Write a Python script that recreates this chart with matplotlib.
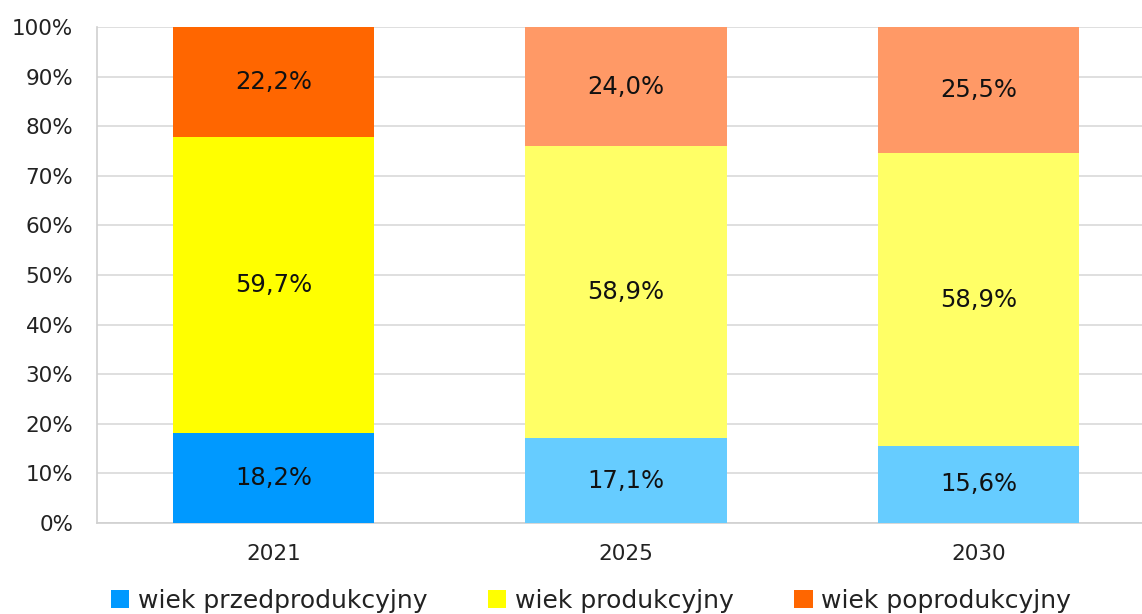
import matplotlib
matplotlib.use("Agg")
import matplotlib.pyplot as plt
from matplotlib.patches import Patch
from matplotlib.ticker import PercentFormatter, MultipleLocator
import numpy as np

years = ["2021", "2025", "2030"]
series_names = ["wiek przedprodukcyjny", "wiek produkcyjny", "wiek poprodukcyjny"]
pre = [18.2, 17.1, 15.6]
prod = [59.7, 58.9, 58.9]
post = [22.2, 24.0, 25.5]

bright_colors = ["#0099FF", "#FFFF00", "#FF6600"]
light_colors = ["#66CCFF", "#FFFF66", "#FF9966"]

plt.rcParams['font.family'] = ['DejaVu Sans']

fig = plt.figure(figsize=(11.42, 6.14), dpi=100)
ax = fig.add_axes([97/1142, 1-523/614, (1155-97)/1142, (523-27)/614])

data = np.array([pre, prod, post])
totals = data.sum(axis=0)
shares = data / totals

x = np.arange(len(years))
width = 0.57
bottom = np.zeros(len(years))
for i in range(3):
    cols = [bright_colors[i] if j == 0 else light_colors[i] for j in range(len(years))]
    ax.bar(x, shares[i], width, bottom=bottom, color=cols, zorder=3)
    for j in range(len(years)):
        ax.text(x[j], bottom[j] + shares[i][j] / 2, f"{data[i][j]:.1f}".replace(".", ",") + "%",
                ha="center", va="center", fontsize=17.5, color="#111111", zorder=4)
    bottom += shares[i]

ax.set_xlim(-0.5, 2.5)
ax.set_ylim(0, 1)
ax.yaxis.set_major_locator(MultipleLocator(0.1))
ax.yaxis.set_major_formatter(PercentFormatter(1.0, decimals=0))
ax.set_xticks(x)
ax.set_xticklabels(years)
ax.tick_params(axis="both", length=0, labelsize=15.5, colors="#222222")
ax.tick_params(axis="x", pad=15)
ax.tick_params(axis="y", pad=17)
ax.grid(axis="y", color="#D9D9D9", linewidth=1.2, zorder=0)
for s in ["top", "right"]:
    ax.spines[s].set_visible(False)
ax.spines["left"].set_color("#D0D0D0")
ax.spines["bottom"].set_color("#D0D0D0")
ax.spines["left"].set_linewidth(1.2)
ax.spines["bottom"].set_linewidth(1.2)

handles = [Patch(facecolor=c) for c in bright_colors]
fig.legend(handles, series_names, loc="center", bbox_to_anchor=(591/1142, 1-601/614),
           ncol=3, frameon=False, fontsize=18, handlelength=0.75, handleheight=0.75,
           handletextpad=0.35, columnspacing=2.4, labelcolor="#222222")

fig.savefig("out.png", dpi=100)
